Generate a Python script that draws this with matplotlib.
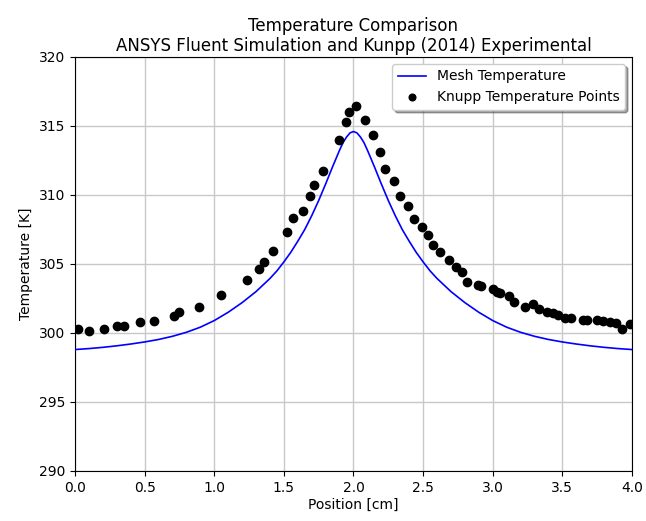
import matplotlib
matplotlib.use("Agg")
import matplotlib.pyplot as plt

# Mesh temperature curve
mesh_x = [0.0, 0.1, 0.2, 0.3, 0.4, 0.5, 0.6, 0.7, 0.8, 0.9, 1.0, 1.1, 1.2, 1.3, 1.4,
          1.45, 1.5, 1.55, 1.6, 1.65, 1.7, 1.75, 1.8, 1.85, 1.9, 1.925, 1.95, 1.975,
          2.0,
          2.025, 2.05, 2.075, 2.1, 2.15, 2.2, 2.25, 2.3, 2.35, 2.4, 2.45, 2.5, 2.55,
          2.6, 2.7, 2.8, 2.9, 3.0, 3.1, 3.2, 3.3, 3.4, 3.5, 3.6, 3.7, 3.8, 3.9, 4.0]
mesh_T = [298.8, 298.87, 298.96, 299.07, 299.2, 299.35, 299.53, 299.76, 300.05, 300.42,
          300.9, 301.5, 302.2, 303.0, 303.95, 304.5, 305.15, 305.85, 306.65, 307.5, 308.5,
          309.6, 310.8, 312.05, 313.25, 313.8, 314.2, 314.5,
          314.6,
          314.5, 314.2, 313.8, 313.25, 312.05, 310.8, 309.6, 308.5, 307.5, 306.65, 305.85,
          305.15, 304.5, 303.95, 303.0, 302.2, 301.5, 300.9, 300.42, 300.05, 299.76,
          299.53, 299.35, 299.2, 299.07, 298.96, 298.87, 298.8]

# Knupp experimental points
knupp_x = [0.02, 0.10, 0.21, 0.30, 0.35, 0.47, 0.57, 0.71, 0.75, 0.89, 1.05, 1.235, 1.32,
           1.357, 1.42, 1.52, 1.568, 1.635, 1.688, 1.714, 1.783, 1.894, 1.946, 1.97, 2.018,
           2.085, 2.142, 2.188, 2.224, 2.293, 2.332, 2.394, 2.434, 2.49, 2.533, 2.573,
           2.621, 2.688, 2.734, 2.78, 2.813, 2.896, 2.913, 3.0, 3.033, 3.05, 3.12, 3.153,
           3.23, 3.29, 3.33, 3.39, 3.435, 3.47, 3.52, 3.56, 3.65, 3.68, 3.75, 3.79, 3.84,
           3.885, 3.93, 3.985]
knupp_T = [300.27, 300.14, 300.27, 300.53, 300.51, 300.82, 300.89, 301.25, 301.52, 301.85,
           302.72, 303.84, 304.66, 305.12, 305.94, 307.3, 308.31, 308.84, 309.95, 310.75,
           311.76, 313.99, 315.31, 316.0, 316.47, 315.46, 314.33, 313.14, 311.88, 311.0,
           309.93, 309.23, 308.24, 307.7, 307.1, 306.38, 305.89, 305.29, 304.8, 304.4,
           303.67, 303.5, 303.41, 303.17, 302.99, 302.87, 302.68, 302.22, 301.9, 302.08,
           301.71, 301.54, 301.47, 301.3, 301.11, 301.11, 300.94, 300.94, 300.94, 300.87,
           300.82, 300.75, 300.3, 300.62]

x_ticks = [0.0, 0.5, 1.0, 1.5, 2.0, 2.5, 3.0, 3.5, 4.0]
y_ticks = [290, 295, 300, 305, 310, 315, 320]

fig = plt.figure(figsize=(6.46, 5.21), dpi=100)
ax = fig.add_axes([0.1161, 0.096, 0.8622, 0.7946])

ax.plot(mesh_x, mesh_T, color="blue", linewidth=1.2, label="Mesh Temperature", zorder=3)
ax.plot(knupp_x, knupp_T, "o", color="black", markersize=6, label="Knupp Temperature Points",
        zorder=4)

ax.set_xlim(0, 4)
ax.set_ylim(290, 320)
ax.set_xticks(x_ticks)
ax.set_yticks(y_ticks)
ax.tick_params(labelsize=10)
ax.grid(True, color="#c8c8c8", linewidth=1.0)
ax.set_axisbelow(True)
ax.set_xlabel("Position [cm]", fontsize=10, labelpad=2)
ax.set_ylabel("Temperature [K]", fontsize=10)
ax.set_title("Temperature Comparison\nANSYS Fluent Simulation and Kunpp (2014) Experimental",
             fontsize=12, pad=4)
ax.legend(loc="upper right", shadow=True, fontsize=10, framealpha=1.0, markerscale=0.8)

fig.savefig("out.png", dpi=100)
